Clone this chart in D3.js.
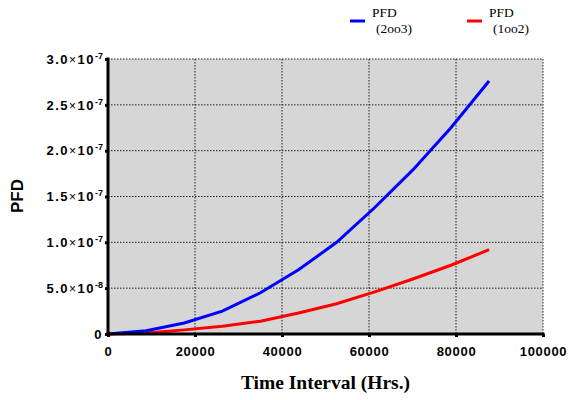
<!DOCTYPE html>
<html>
<head>
<meta charset="utf-8">
<script src="https://cdn.jsdelivr.net/npm/d3@7"></script>
<style>
  body { margin: 0; background: #fff; }
  .tick text { font-family: "Liberation Sans", Arial, sans-serif; font-weight: bold; font-size: 13px; fill: #000; }
</style>
</head>
<body>
<div id="chart"></div>
<script>
var svgWidth = 569;
var svgHeight = 400;

var margin = { top: 59, right: 26, bottom: 66, left: 108 };
var width = svgWidth - margin.left - margin.right;
var height = svgHeight - margin.top - margin.bottom;

// data (hours, one point per year)
var hours = [0, 8760, 17520, 26280, 35040, 43800, 52560, 61320, 70080, 78840, 87600];
var pfd2oo3 = [0, 3.5e-9, 1.2e-8, 2.5e-8, 4.5e-8, 7.0e-8, 1.0e-7, 1.38e-7, 1.79e-7, 2.25e-7, 2.76e-7];
var pfd1oo2 = [0, 1.0e-9, 4.5e-9, 8.5e-9, 1.4e-8, 2.3e-8, 3.3e-8, 4.6e-8, 6.0e-8, 7.5e-8, 9.2e-8];

var xTicks = [0, 20000, 40000, 60000, 80000, 100000];
var yTicks = [0, 5e-8, 1e-7, 1.5e-7, 2e-7, 2.5e-7, 3e-7];
var yTickMant = ["0", "5.0", "1.0", "1.5", "2.0", "2.5", "3.0"];
var yTickExp = ["", "-8", "-7", "-7", "-7", "-7", "-7"];

var seriesNames = ["2oo3", "1oo2"];
var seriesColors = ["#0000ff", "#ff0000"];

var svg = d3.select('#chart')
    .append('svg')
    .attr('width', svgWidth)
    .attr('height', svgHeight);

var chartGroup = svg.append('g')
    .attr('transform', `translate(${margin.left}, ${margin.top})`);

var xScale = d3.scaleLinear().domain([0, 100000]).range([0, width]);
var yScale = d3.scaleLinear().domain([0, 3e-7]).range([height, 0]);

chartGroup.append('rect')
    .attr('width', width)
    .attr('height', height)
    .attr('fill', '#d6d6d6');

// dotted grid
chartGroup.selectAll('line.gx')
    .data(xTicks.slice(1))
    .enter()
    .append('line')
    .attr('x1', d => xScale(d)).attr('x2', d => xScale(d))
    .attr('y1', 0).attr('y2', height)
    .attr('stroke', '#222').attr('stroke-width', 1)
    .attr('stroke-dasharray', '1.5,1.5');

chartGroup.selectAll('line.gy')
    .data(yTicks.slice(1))
    .enter()
    .append('line')
    .attr('y1', d => yScale(d)).attr('y2', d => yScale(d))
    .attr('x1', 0).attr('x2', width)
    .attr('stroke', '#222').attr('stroke-width', 1)
    .attr('stroke-dasharray', '1.5,1.5');

var line = d3.line()
    .x((d, i) => xScale(hours[i]))
    .y(d => yScale(d));

[pfd1oo2, pfd2oo3].forEach(function(vals, k) {
    chartGroup.append('path')
        .datum(vals)
        .attr('d', line)
        .attr('fill', 'none')
        .attr('stroke', k === 0 ? seriesColors[1] : seriesColors[0])
        .attr('stroke-width', 3);
});

// axes
var bottomAxis = d3.axisBottom(xScale).tickValues(xTicks).tickFormat(d3.format('d')).tickSize(3).tickPadding(10);
var xAxisG = chartGroup.append('g')
    .attr('transform', `translate(0, ${height})`)
    .call(bottomAxis);
xAxisG.selectAll('.tick text').attr('letter-spacing', '0.7px');

var leftAxis = d3.axisLeft(yScale).tickValues(yTicks).tickSize(3).tickPadding(2).tickFormat('');
var yAxisG = chartGroup.append('g')
    .call(leftAxis);

[xAxisG, yAxisG].forEach(function(g) {
    g.select('.domain').attr('stroke', '#000').attr('stroke-width', 3);
    g.selectAll('.tick line').attr('stroke', '#000').attr('stroke-width', 3);
});
xAxisG.select('.domain').attr('d', `M-1.5,0H${width + 1.5}`);
yAxisG.select('.domain').attr('d', `M0,${height + 1.5}V-1.5`);

// y tick labels as mantissa x 10^exp
yAxisG.selectAll('.tick').each(function(d, i) {
    var t = d3.select(this).select('text')
        .attr('x', -5)
        .attr('dy', '0.32em')
        .attr('text-anchor', 'end')
        .attr('letter-spacing', '1.5px');
    t.append('tspan').text(yTickMant[i]);
    if (yTickExp[i] !== '') {
        t.append('tspan').attr('font-weight', 'normal').attr('font-size', '12px').text('\u00d7');
        t.append('tspan').text('10');
        t.append('tspan').attr('font-size', '9px').attr('letter-spacing', '0px').attr('dy', '-5').text(yTickExp[i]);
    }
});

// axis titles
svg.append('text')
    .attr('x', margin.left + width / 2)
    .attr('y', 389)
    .attr('text-anchor', 'middle')
    .attr('font-family', '"Liberation Serif", "Times New Roman", serif')
    .attr('font-weight', 'bold')
    .attr('font-size', '19.5px')
    .text('Time Interval (Hrs.)');

svg.append('text')
    .attr('transform', 'rotate(-90)')
    .attr('x', -196)
    .attr('y', 23)
    .attr('text-anchor', 'middle')
    .attr('font-family', '"Liberation Sans", Arial, sans-serif')
    .attr('font-weight', 'bold')
    .attr('font-size', '17px')
    .text('PFD');

// legend
var legendX = [350, 467];
seriesNames.forEach(function(name, i) {
    var g = svg.append('g').attr('transform', `translate(${legendX[i]}, 0)`);
    g.append('line')
        .attr('x1', 0).attr('x2', 15)
        .attr('y1', 21).attr('y2', 21)
        .attr('stroke', seriesColors[i]).attr('stroke-width', 3);
    g.append('text')
        .attr('x', 22).attr('y', 17)
        .attr('font-family', '"Liberation Serif", "Times New Roman", serif')
        .attr('font-size', '13.5px')
        .text('PFD');
    g.append('text')
        .attr('x', 26).attr('y', 33)
        .attr('font-family', '"Liberation Serif", "Times New Roman", serif')
        .attr('font-size', '13.5px')
        .text('(' + name + ')');
});
</script>
</body>
</html>
